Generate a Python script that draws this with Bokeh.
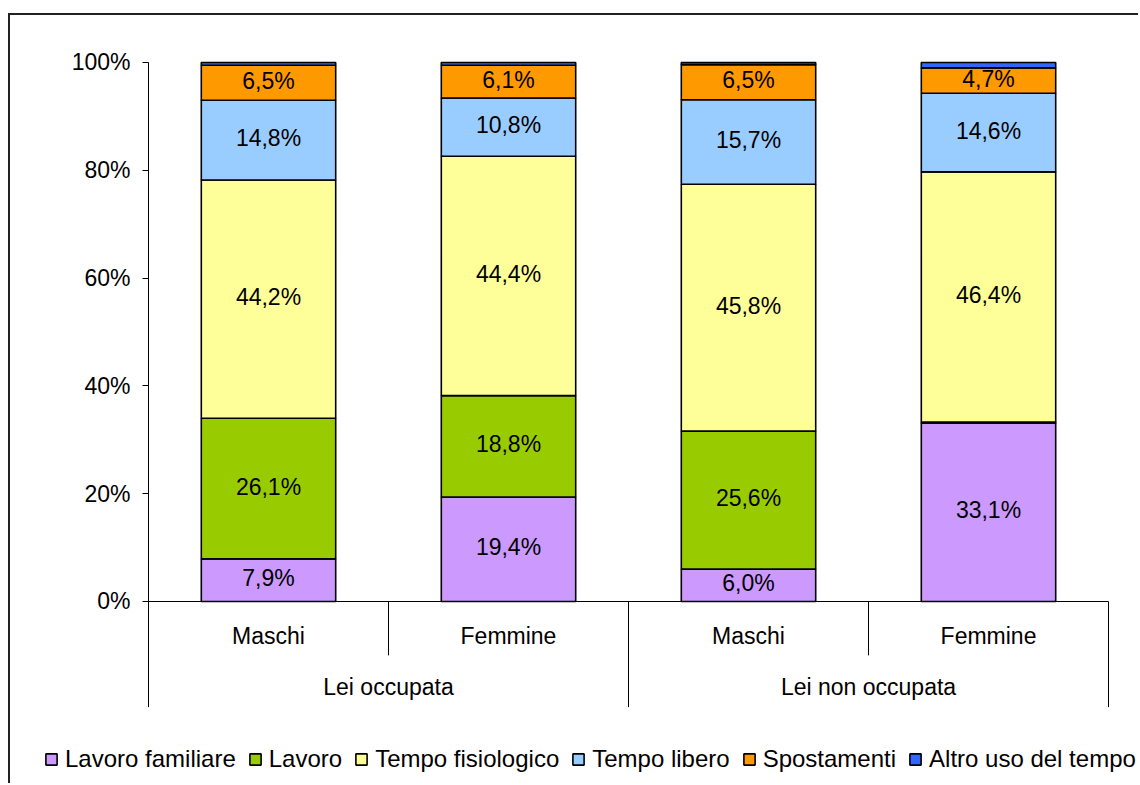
from bokeh.plotting import figure
from bokeh.models import (ColumnDataSource, Range1d, FixedTicker, PrintfTickFormatter,
                          LinearAxis)
from bokeh.core.properties import value
from bokeh.embed import file_html
from bokeh.resources import INLINE

# ---- data ----
groups = ["Lei occupata", "Lei occupata", "Lei non occupata", "Lei non occupata"]
sexes = ["Maschi", "Femmine", "Maschi", "Femmine"]
series_names = ["Lavoro familiare", "Lavoro", "Tempo fisiologico",
                "Tempo libero", "Spostamenti", "Altro uso del tempo"]
lavoro_familiare = [7.9, 19.4, 6.0, 33.1]
lavoro = [26.1, 18.8, 25.6, 0.2]
tempo_fisiologico = [44.2, 44.4, 45.8, 46.4]
tempo_libero = [14.8, 10.8, 15.7, 14.6]
spostamenti = [6.5, 6.1, 6.5, 4.7]
altro = [0.5, 0.5, 0.4, 1.0]
colors = ["#CC99FF", "#99CC00", "#FFFF99", "#99CCFF", "#FF9900", "#3366FF"]
y_ticks = [0, 20, 40, 60, 80, 100]

series_values = [lavoro_familiare, lavoro, tempo_fisiologico, tempo_libero, spostamenti, altro]
labelled = [True, True, True, True, True, False]

FONT = "Liberation Sans"
FS = "23px"

n = len(sexes)
x_pos = [i + 0.5 for i in range(n)]          # category slots on an index scale
group_names = list(dict.fromkeys(groups))
group_pos = [sum(x for x, g in zip(x_pos, groups) if g == gn) / groups.count(gn)
             for gn in group_names]

p = figure(
    x_range=Range1d(-0.575, n + 0.1333),
    y_range=Range1d(-34.14, 108.72),
    width=1130, height=770,
    output_backend="svg", toolbar_location=None,
    min_border_left=0, min_border_top=0, min_border_right=0, min_border_bottom=0,
    styles={"border-left": "2px solid #222", "border-top": "2px solid #222",
            "margin-top": "13px", "margin-left": "8px"},
)
p.outline_line_color = None
p.xgrid.visible = False
p.ygrid.visible = False
p.background_fill_color = "white"

data = {"x": x_pos}
for name, vals in zip(series_names, series_values):
    data[name] = vals
src = ColumnDataSource(data)

p.vbar_stack(series_names, x="x", width=0.56, source=src,
             fill_color=colors, line_color="black", line_width=1.6,
             legend_label=series_names)

# value labels
lx, ly, lt = [], [], []
for i, xp in enumerate(x_pos):
    bottom = 0.0
    for vals, lab in zip(series_values, labelled):
        v = vals[i]
        if lab and v >= 1:
            lx.append(xp)
            ly.append(bottom + v / 2)
            lt.append(f"{v:.1f}".replace(".", ",") + "%")
        bottom += v
p.text(x="x", y="y", text="t", source=ColumnDataSource(dict(x=lx, y=ly, t=lt)),
       text_font=value(FONT), text_font_size=FS, text_align="center",
       text_baseline="middle", text_color="black", y_offset=-2)

# category separators (slot boundaries)
sx, sy1 = [], []
for i in range(n + 1):
    is_group = i == 0 or i == n or groups[i] != groups[i - 1]
    sx.append(i)
    sy1.append(-19.6 if is_group else -10.0)
p.segment(x0=sx, y0=[0] * len(sx), x1=sx, y1=sy1, line_color="black", line_width=1)

# x axis: sub categories
xa = p.xaxis[0]
xa.fixed_location = 0
xa.bounds = (0, n)
xa.ticker = FixedTicker(ticks=x_pos)
xa.major_label_overrides = {xp: s for xp, s in zip(x_pos, sexes)}
xa.axis_line_color = "black"
xa.axis_line_width = 1
xa.major_tick_line_color = None
xa.major_tick_out = 0
xa.major_tick_in = 0
xa.minor_tick_line_color = None
xa.major_label_text_font = FONT
xa.major_label_text_font_size = FS
xa.major_label_text_color = "black"
xa.major_label_standoff = 22

# x axis: groups
ga = LinearAxis(fixed_location=0, ticker=FixedTicker(ticks=group_pos),
                major_label_overrides={gp: gn for gp, gn in zip(group_pos, group_names)},
                axis_line_color=None, major_tick_line_color=None, minor_tick_line_color=None,
                major_tick_out=0, major_tick_in=0, major_label_standoff=73,
                major_label_text_font=FONT, major_label_text_font_size=FS,
                major_label_text_color="black")
p.add_layout(ga, "below")

# y axis
ya = p.yaxis[0]
ya.fixed_location = 0
ya.ticker = FixedTicker(ticks=y_ticks)
ya.formatter = PrintfTickFormatter(format="%d%%")
ya.bounds = (0, 100)
ya.axis_line_color = "black"
ya.major_tick_line_color = "black"
ya.major_tick_in = 0
ya.major_tick_out = 6
ya.minor_tick_line_color = None
ya.major_label_standoff = 12
ya.major_label_text_font = FONT
ya.major_label_text_font_size = FS
ya.major_label_text_color = "black"

# legend
lg = p.legend[0]
lg.orientation = "horizontal"
lg.location = (34, 12)
lg.label_text_font = FONT
lg.label_text_font_size = "24px"
lg.label_text_color = "black"
lg.glyph_width = 14
lg.glyph_height = 14
lg.label_standoff = 7
lg.spacing = 12
lg.padding = 0
lg.margin = 0
lg.border_line_color = None
lg.background_fill_alpha = 0

open("out.html", "w").write(file_html(p, INLINE))
